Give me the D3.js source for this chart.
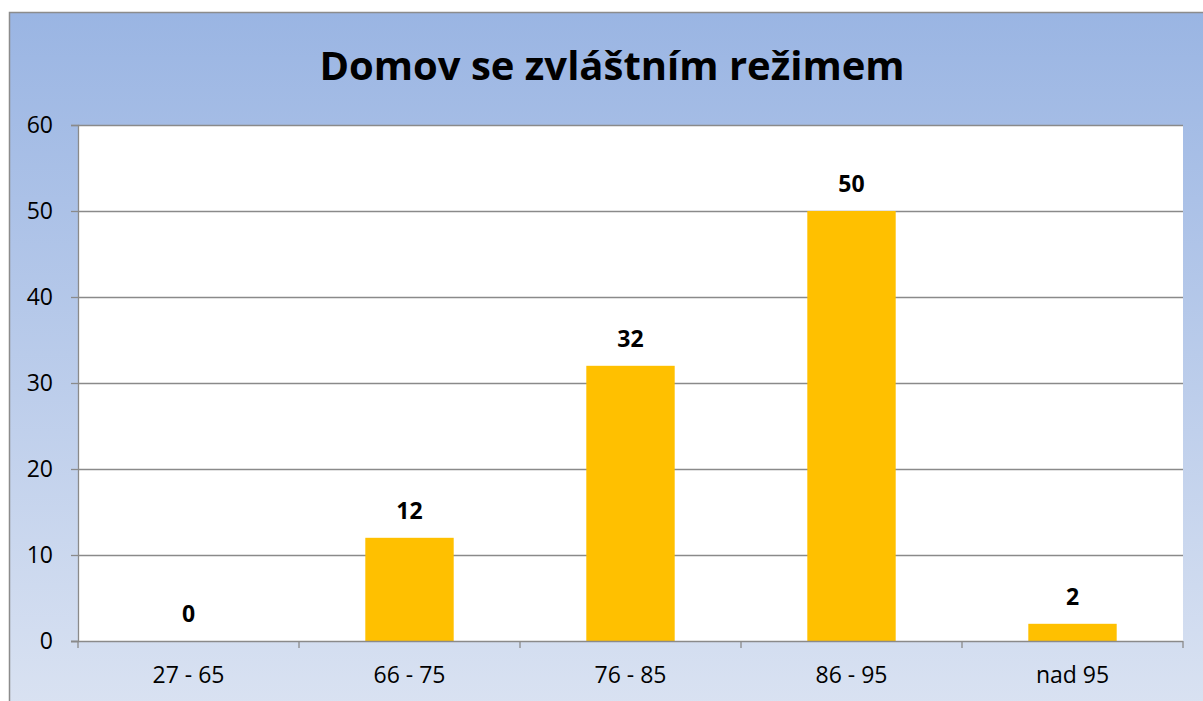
<!DOCTYPE html>
<html>
<head>
<meta charset="utf-8">
<script src="https://cdn.jsdelivr.net/npm/d3@7"></script>
<style>
  body { margin: 0; background: #fff; }
  svg { display: block; font-family: "Open Sans", "Liberation Sans", sans-serif; }
</style>
</head>
<body>
<script>
// chart data
const categories = ["27 - 65", "66 - 75", "76 - 85", "86 - 95", "nad 95"];
const values = [0, 12, 32, 50, 2];
const yTicks = [0, 10, 20, 30, 40, 50, 60];
const title = "Domov se zvláštním režimem";

const width = 1203, height = 701;
const plot = { left: 78, top: 125, right: 1183, bottom: 641 };
const fontStack = "\"Open Sans\", \"Liberation Sans\", sans-serif";

const svg = d3.select("body").append("svg")
    .attr("width", width)
    .attr("height", height);

// background gradient
const grad = svg.append("defs").append("linearGradient")
    .attr("id", "bg")
    .attr("x1", 0).attr("y1", 0).attr("x2", 0).attr("y2", 1);
grad.append("stop").attr("offset", "0%").attr("stop-color", "#9ab5e3");
grad.append("stop").attr("offset", "100%").attr("stop-color", "#dfe6f3");

svg.append("rect")
    .attr("x", 9.5).attr("y", 12.5)
    .attr("width", 1260).attr("height", 760)
    .attr("fill", "url(#bg)")
    .attr("stroke", "#8c8c8c")
    .attr("stroke-width", 1.5);

// plot area
svg.append("rect")
    .attr("x", plot.left).attr("y", plot.top)
    .attr("width", plot.right - plot.left)
    .attr("height", plot.bottom - plot.top)
    .attr("fill", "#ffffff");

const x = d3.scaleBand()
    .domain(categories)
    .range([plot.left, plot.right])
    .paddingInner(0.6)
    .paddingOuter(0.3);

const y = d3.scaleLinear()
    .domain([0, 60])
    .range([plot.bottom, plot.top]);

// gridlines
svg.append("g")
    .selectAll("line")
    .data(yTicks.filter(d => d > 0))
    .join("line")
    .attr("x1", plot.left).attr("x2", plot.right)
    .attr("y1", d => Math.round(y(d)) + 0.5)
    .attr("y2", d => Math.round(y(d)) + 0.5)
    .attr("stroke", "#8a8a8a")
    .attr("stroke-width", 1.3);

// bars
svg.append("g")
    .selectAll("rect")
    .data(values)
    .join("rect")
    .attr("x", (d, i) => x(categories[i]))
    .attr("width", x.bandwidth())
    .attr("y", d => y(d))
    .attr("height", d => y(0) - y(d))
    .attr("fill", "#ffc000");

// value labels
svg.append("g")
    .selectAll("text")
    .data(values)
    .join("text")
    .attr("x", (d, i) => x(categories[i]) + x.bandwidth() / 2)
    .attr("y", d => y(d) - 19)
    .attr("text-anchor", "middle")
    .style("font-size", "23px")
    .attr("font-weight", "bold")
    .attr("fill", "#000")
    .text(d => d);

// y axis
const yAxis = svg.append("g")
    .attr("transform", `translate(${plot.left},0)`)
    .call(d3.axisLeft(y).tickValues(yTicks).tickSize(7).tickPadding(18).tickFormat(d3.format("d")));
yAxis.select(".domain").attr("stroke", "#8a8a8a").attr("stroke-width", 1.3);
yAxis.selectAll(".tick line").attr("stroke", "#8a8a8a").attr("stroke-width", 1.3);
yAxis.selectAll(".tick text")
    .style("font-size", "23px")
    .style("font-family", fontStack)
    .attr("fill", "#000");

// x axis with ticks on category boundaries
const xAxisG = svg.append("g");
xAxisG.append("line")
    .attr("x1", plot.left - 7).attr("x2", plot.right)
    .attr("y1", plot.bottom + 0.5).attr("y2", plot.bottom + 0.5)
    .attr("stroke", "#8a8a8a").attr("stroke-width", 1.3);
const bounds = d3.range(categories.length + 1).map(i => plot.left + i * (plot.right - plot.left) / categories.length);
xAxisG.selectAll("line.tk")
    .data(bounds)
    .join("line")
    .attr("class", "tk")
    .attr("x1", d => d).attr("x2", d => d)
    .attr("y1", plot.bottom).attr("y2", plot.bottom + 7)
    .attr("stroke", "#8a8a8a").attr("stroke-width", 1.3);
xAxisG.selectAll("text")
    .data(categories)
    .join("text")
    .attr("x", d => x(d) + x.bandwidth() / 2)
    .attr("y", plot.bottom + 42)
    .attr("text-anchor", "middle")
    .style("font-size", "23px")
    .attr("fill", "#000")
    .text(d => d);

// title
svg.append("text")
    .attr("x", 612)
    .attr("y", 80)
    .attr("text-anchor", "middle")
    .style("font-size", "40px")
    .attr("font-weight", "bold")
    .attr("fill", "#000")
    .text(title);
</script>
</body>
</html>
